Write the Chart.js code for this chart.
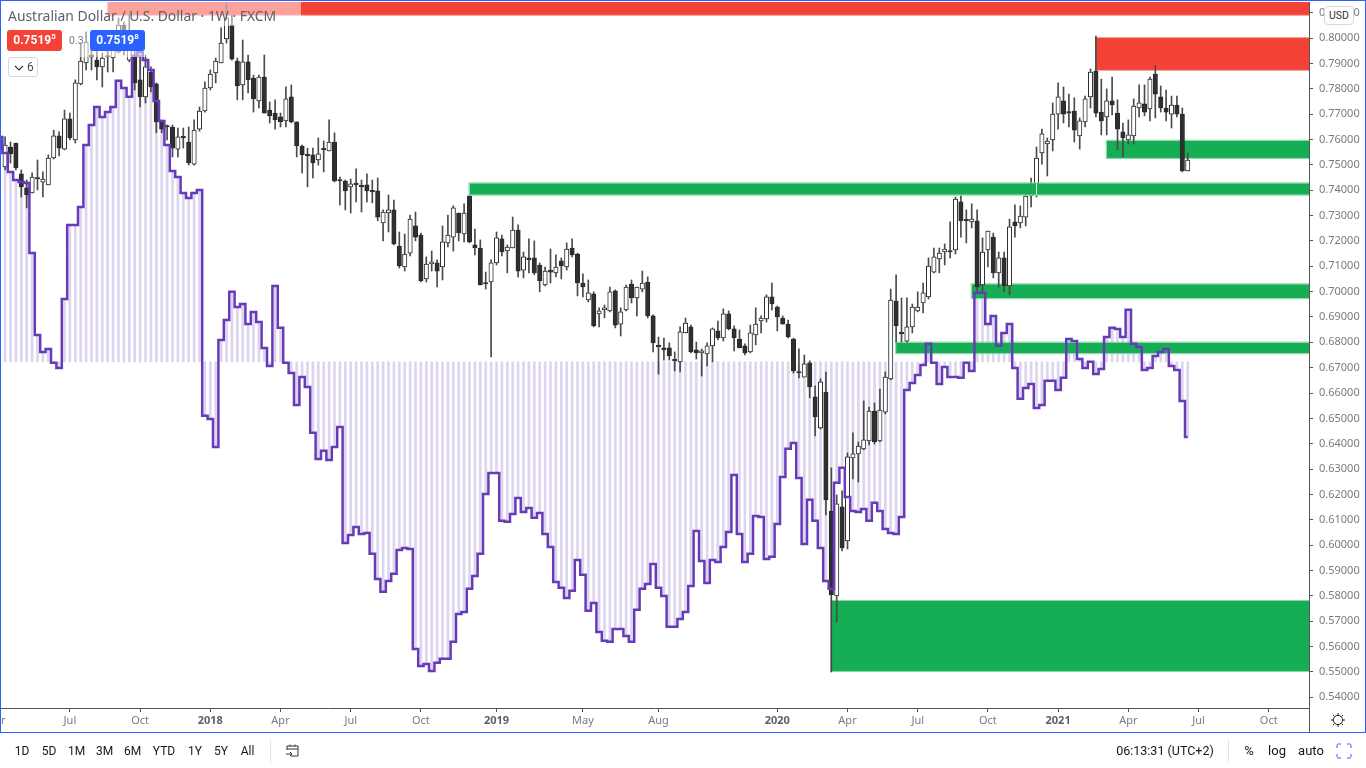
<!DOCTYPE html>
<html>
<head>
<meta charset="utf-8">
<title>AUD/USD 1W</title>
<script src="https://cdn.jsdelivr.net/npm/chart.js@4"></script>
<style>
  html, body { margin: 0; padding: 0; background: #fff; overflow: hidden; }
  body { width: 1366px; height: 768px; position: relative; font-family: Roboto, sans-serif; color: #131722; }
  canvas { position: absolute; left: 0; top: 0; }
  .abs { position: absolute; white-space: nowrap; }
  .veil { position: absolute; background: rgba(255,255,255,.5); }
  .price { position: absolute; top: 30px; width: 55px; height: 21px; border-radius: 3px; color: #fff; font: 700 12px/21px Roboto, sans-serif; text-align: center; }
  .price sup { font-size: 8px; line-height: 0; }
  .btn { position: absolute; top: 743px; font-size: 12px; line-height: 16px; transform: translateX(-50%); }
</style>
</head>
<body>
<canvas id="chart" width="1366" height="768"></canvas>

<!-- frame -->
<div class="abs" style="left:0;top:0;width:1366px;height:733px;box-sizing:border-box;border:1px solid #2962ff;border-width:1.5px"></div>
<div class="abs" style="left:1309px;top:2px;width:1px;height:730px;background:#555"></div>

<!-- legend -->
<div class="veil" style="left:2px;top:2px;width:299px;height:24px"></div>
<div class="veil" style="left:2px;top:26px;width:147px;height:31px"></div>
<div class="abs" style="left:8px;top:8px;font:13.9px/16px 'Noto Sans',sans-serif;color:#5d606b">Australian Dollar / U.S. Dollar · 1W · FXCM</div>
<div class="price" style="left:7px;background:#f44336">0.7519<sup>5</sup></div>
<div class="abs" style="left:69px;top:34px;font-size:10.5px;line-height:14px;color:#787b86">0.3</div>
<div class="price" style="left:90px;background:#2962ff">0.7519<sup>8</sup></div>
<div class="abs" style="left:8px;top:57px;width:28px;height:18px;border:1px solid #d6d8e0;border-radius:3px;background:#fff;font-size:12px;line-height:18px;color:#4a4e5a">
  <svg width="10" height="6" style="position:absolute;left:5px;top:7px"><path d="M1 1l4 4 4-4" fill="none" stroke="#333" stroke-width="1.1"/></svg>
  <span style="position:absolute;left:18px">6</span>
</div>
<div class="abs" style="left:1324px;top:6px;width:28px;height:17px;border:1px solid #d6d8e0;border-radius:4px;background:#fff;font-size:10.5px;line-height:17px;text-align:center;color:#333">USD</div>

<!-- settings gear -->
<svg class="abs" style="left:1330px;top:712px" width="16" height="16" viewBox="0 0 16 16">
  <circle cx="8" cy="8" r="4.6" fill="none" stroke="#222" stroke-width="1"/>
  <path d="M8 1v2M8 13v2M1 8h2M13 8h2M3 3l1.4 1.4M11.6 11.6L13 13M13 3l-1.4 1.4M4.4 11.6L3 13" stroke="#222" stroke-width="1"/>
</svg>

<!-- bottom toolbar -->
<div class="btn" style="left:22px">1D</div>
<div class="btn" style="left:49px">5D</div>
<div class="btn" style="left:76.5px">1M</div>
<div class="btn" style="left:104.5px">3M</div>
<div class="btn" style="left:132.5px">6M</div>
<div class="btn" style="left:164px">YTD</div>
<div class="btn" style="left:195px">1Y</div>
<div class="btn" style="left:221px">5Y</div>
<div class="btn" style="left:247.5px">All</div>
<div class="abs" style="left:270px;top:740px;width:1px;height:23px;background:#e0e3eb"></div>
<svg class="abs" style="left:285px;top:743px" width="16" height="16" viewBox="0 0 16 16">
  <path d="M2 7V3h11v10H6M2 6h11M5 1.5v2M10 1.5v2M1 11h6M5 9l2 2-2 2" fill="none" stroke="#333" stroke-width="1"/>
</svg>
<div class="btn" style="left:1165px;font-size:12.5px">06:13:31 (UTC+2)</div>
<div class="abs" style="left:1228px;top:740px;width:1px;height:23px;background:#e0e3eb"></div>
<div class="btn" style="left:1249px;font-size:13px">%</div>
<div class="btn" style="left:1277px;font-size:13px">log</div>
<div class="btn" style="left:1311px;font-size:13px">auto</div>
<svg class="abs" style="left:1336px;top:743px" width="16" height="16" viewBox="0 0 16 16">
  <path d="M1 5V2.5A1.5 1.5 0 0 1 2.5 1H5M11 1h2.500A1.500 1.500 0 0 1 15 2.500V5M15 11v2.500a1.500 1.500 0 0 1-1.500 1.500H11M5 15H2.500A1.500 1.500 0 0 1 1 13.500V11" fill="none" stroke="#2962ff" stroke-width="1"/>
</svg>

<script>
// weekly AUD/USD candles, oldest first
const opens = [
  0.7598,0.7492,0.7570,0.7586,0.7464,0.7409,0.7389,0.7448,0.7432,0.7421,
  0.7527,0.7614,0.7562,0.7681,0.7598,0.7819,0.7902,0.7933,0.7913,0.7886,
  0.7929,0.7921,0.7945,0.8051,0.7913,0.7925,0.7835,0.7768,0.7866,0.7819,
  0.7669,0.7653,0.7649,0.7562,0.7610,0.7590,0.7503,0.7641,0.7712,0.7803,
  0.7862,0.7902,0.7996,0.8051,0.7909,0.7815,0.7906,0.7842,0.7752,0.7846,
  0.7716,0.7704,0.7689,0.7673,0.7768,0.7669,0.7574,0.7539,0.7539,0.7519,
  0.7562,0.7555,0.7590,0.7440,0.7436,0.7413,0.7428,0.7417,0.7421,0.7397,
  0.7397,0.7271,0.7310,0.7322,0.7180,0.7097,0.7152,0.7259,0.7223,0.7050,
  0.7109,0.7113,0.7097,0.7192,0.7215,0.7310,0.7227,0.7377,0.7184,0.7172,
  0.7034,0.7038,0.7113,0.7208,0.7160,0.7172,0.7243,0.7085,0.7133,0.7133,
  0.7105,0.7026,0.7085,0.7074,0.7121,0.7097,0.7172,0.7148,0.7034,0.6967,
  0.6991,0.6912,0.6928,0.6924,0.7003,0.6872,0.6928,0.7030,0.6975,0.7010,
  0.7038,0.6904,0.6786,0.6778,0.6778,0.6730,0.6723,0.6837,0.6861,0.6770,
  0.6758,0.6754,0.6786,0.6845,0.6817,0.6912,0.6853,0.6813,0.6786,0.6762,
  0.6829,0.6884,0.6892,0.6979,0.6939,0.6896,0.6872,0.6813,0.6683,0.6663,
  0.6719,0.6585,0.6462,0.6604,0.6135,0.5800,0.6151,0.6017,0.6344,0.6360,
  0.6380,0.6411,0.6529,0.6411,0.6525,0.6656,0.6963,0.6837,0.6805,0.6861,
  0.6924,0.6955,0.6979,0.7077,0.7129,0.7156,0.7160,0.7164,0.7354,0.7283,
  0.7275,0.7279,0.7026,0.7164,0.7215,0.7074,0.7133,0.7022,0.7275,0.7271,
  0.7294,0.7377,0.7425,0.7547,0.7582,0.7598,0.7700,0.7752,0.7708,0.7712,
  0.7614,0.7669,0.7768,0.7870,0.7708,0.7689,0.7752,0.7704,0.7630,0.7598,
  0.7614,0.7724,0.7740,0.7720,0.7858,0.7768,0.7724,0.7700,0.7736,0.7700,0.7476
]
const highs = [
  0.7618,0.7610,0.7590,0.7586,0.7480,0.7440,0.7468,0.7519,0.7472,0.7539,
  0.7637,0.7630,0.7716,0.7704,0.7835,0.7980,0.8024,0.7984,0.7953,0.7941,
  0.7953,0.7980,0.8079,0.8063,0.8095,0.7953,0.7933,0.7933,0.7886,0.7823,
  0.7677,0.7657,0.7657,0.7645,0.7645,0.7649,0.7677,0.7728,0.7827,0.7874,
  0.7921,0.8040,0.8138,0.8091,0.7921,0.7992,0.7933,0.7854,0.7854,0.7933,
  0.7748,0.7756,0.7704,0.7807,0.7815,0.7669,0.7578,0.7566,0.7566,0.7606,
  0.7594,0.7677,0.7626,0.7452,0.7440,0.7444,0.7484,0.7440,0.7464,0.7440,
  0.7448,0.7322,0.7381,0.7361,0.7235,0.7227,0.7302,0.7314,0.7231,0.7137,
  0.7160,0.7125,0.7259,0.7302,0.7338,0.7310,0.7346,0.7381,0.7247,0.7204,
  0.7077,0.7125,0.7235,0.7223,0.7184,0.7294,0.7263,0.7156,0.7208,0.7200,
  0.7113,0.7097,0.7168,0.7145,0.7133,0.7192,0.7208,0.7152,0.7070,0.7046,
  0.6999,0.6936,0.6947,0.7018,0.7007,0.6936,0.7026,0.7046,0.7018,0.7081,
  0.7058,0.6908,0.6821,0.6817,0.6798,0.6762,0.6861,0.6896,0.6868,0.6801,
  0.6774,0.6798,0.6857,0.6884,0.6932,0.6924,0.6865,0.6849,0.6794,0.6868,
  0.6936,0.6904,0.6987,0.7034,0.6943,0.6904,0.6888,0.6817,0.6774,0.6750,
  0.6727,0.6628,0.6656,0.6683,0.6305,0.6198,0.6214,0.6364,0.6443,0.6407,
  0.6569,0.6545,0.6561,0.6616,0.6683,0.7010,0.7066,0.6975,0.6975,0.6951,
  0.6999,0.7034,0.7133,0.7172,0.7172,0.7188,0.7275,0.7373,0.7381,0.7322,
  0.7346,0.7322,0.7212,0.7239,0.7231,0.7156,0.7156,0.7286,0.7342,0.7338,
  0.7381,0.7448,0.7570,0.7641,0.7606,0.7744,0.7823,0.7807,0.7779,0.7764,
  0.7685,0.7771,0.7878,0.8008,0.7838,0.7799,0.7846,0.7756,0.7665,0.7677,
  0.7760,0.7815,0.7815,0.7846,0.7890,0.7811,0.7795,0.7771,0.7771,0.7724,0.7547
]
const lows = [
  0.7539,0.7480,0.7507,0.7480,0.7373,0.7330,0.7389,0.7401,0.7373,0.7421,
  0.7523,0.7535,0.7559,0.7598,0.7586,0.7815,0.7874,0.7874,0.7835,0.7807,
  0.7866,0.7866,0.7941,0.7933,0.7906,0.7795,0.7728,0.7744,0.7787,0.7626,
  0.7626,0.7598,0.7531,0.7531,0.7566,0.7499,0.7499,0.7633,0.7708,0.7795,
  0.7823,0.7902,0.7980,0.7913,0.7756,0.7756,0.7783,0.7708,0.7724,0.7704,
  0.7665,0.7641,0.7649,0.7649,0.7665,0.7531,0.7468,0.7413,0.7448,0.7499,
  0.7472,0.7555,0.7432,0.7342,0.7322,0.7310,0.7354,0.7314,0.7354,0.7350,
  0.7279,0.7200,0.7235,0.7184,0.7093,0.7081,0.7141,0.7200,0.7038,0.7038,
  0.7081,0.7018,0.7046,0.7176,0.7160,0.7200,0.7196,0.7192,0.7145,0.7026,
  0.7010,0.6742,0.7105,0.7141,0.7074,0.7172,0.7058,0.7054,0.7074,0.7066,
  0.6999,0.7022,0.7034,0.7058,0.7050,0.7085,0.7137,0.6983,0.6979,0.6959,
  0.6861,0.6861,0.6896,0.6920,0.6857,0.6825,0.6924,0.6955,0.6904,0.6999,
  0.6896,0.6762,0.6675,0.6730,0.6730,0.6687,0.6683,0.6837,0.6758,0.6734,
  0.6667,0.6707,0.6723,0.6809,0.6805,0.6849,0.6766,0.6778,0.6750,0.6758,
  0.6790,0.6837,0.6880,0.6928,0.6845,0.6872,0.6817,0.6679,0.6660,0.6663,
  0.6581,0.6431,0.6458,0.6119,0.5500,0.5697,0.5977,0.5985,0.6261,0.6249,
  0.6376,0.6395,0.6399,0.6407,0.6518,0.6652,0.6801,0.6801,0.6801,0.6837,
  0.6920,0.6916,0.6971,0.7074,0.7074,0.7105,0.7133,0.7148,0.7215,0.7192,
  0.7251,0.6999,0.6995,0.7097,0.7054,0.7018,0.6999,0.6987,0.7215,0.7251,
  0.7259,0.7334,0.7373,0.7503,0.7456,0.7555,0.7641,0.7665,0.7649,0.7590,
  0.7562,0.7649,0.7724,0.7689,0.7618,0.7618,0.7697,0.7559,0.7531,0.7582,
  0.7582,0.7689,0.7693,0.7673,0.7685,0.7708,0.7673,0.7645,0.7689,0.7472,0.7476
]
const closes = [
  0.7559,0.7578,0.7543,0.7488,0.7413,0.7381,0.7452,0.7444,0.7444,0.7527,
  0.7614,0.7566,0.7681,0.7606,0.7823,0.7909,0.7984,0.7925,0.7886,0.7921,
  0.7925,0.7953,0.8051,0.7973,0.8024,0.7823,0.7768,0.7886,0.7807,0.7669,
  0.7641,0.7649,0.7566,0.7610,0.7606,0.7507,0.7637,0.7712,0.7803,0.7858,
  0.7909,0.7980,0.8079,0.7917,0.7811,0.7906,0.7835,0.7760,0.7846,0.7704,
  0.7693,0.7677,0.7669,0.7760,0.7669,0.7574,0.7539,0.7535,0.7507,0.7543,
  0.7559,0.7590,0.7436,0.7436,0.7397,0.7425,0.7421,0.7413,0.7397,0.7393,
  0.7294,0.7314,0.7322,0.7188,0.7101,0.7148,0.7286,0.7215,0.7042,0.7109,
  0.7117,0.7081,0.7196,0.7223,0.7330,0.7231,0.7310,0.7196,0.7172,0.7026,
  0.7030,0.7113,0.7212,0.7156,0.7176,0.7243,0.7081,0.7137,0.7125,0.7074,
  0.7042,0.7081,0.7077,0.7097,0.7101,0.7168,0.7145,0.7034,0.7018,0.6995,
  0.6865,0.6924,0.6936,0.6999,0.6868,0.6920,0.7018,0.6975,0.7018,0.7034,
  0.6904,0.6798,0.6782,0.6770,0.6746,0.6727,0.6841,0.6876,0.6762,0.6758,
  0.6766,0.6786,0.6853,0.6817,0.6912,0.6853,0.6817,0.6778,0.6758,0.6837,
  0.6872,0.6896,0.6979,0.6951,0.6900,0.6872,0.6821,0.6687,0.6679,0.6715,
  0.6624,0.6506,0.6644,0.6179,0.5804,0.6163,0.5989,0.6348,0.6360,0.6391,
  0.6415,0.6529,0.6407,0.6533,0.6663,0.6967,0.6865,0.6833,0.6861,0.6939,
  0.6939,0.6995,0.7101,0.7137,0.7152,0.7168,0.7156,0.7365,0.7279,0.7279,
  0.7286,0.7018,0.7156,0.7239,0.7074,0.7133,0.7022,0.7255,0.7259,0.7298,
  0.7377,0.7425,0.7527,0.7622,0.7594,0.7700,0.7768,0.7700,0.7704,0.7637,
  0.7673,0.7760,0.7866,0.7704,0.7673,0.7752,0.7736,0.7641,0.7606,0.7618,
  0.7732,0.7744,0.7708,0.7838,0.7779,0.7724,0.7708,0.7736,0.7700,0.7476,0.7519
]

// purple oscillator, read against the price axis; columns hang off oscBase
const oscBase = 0.6723
const osc = [
  0.7610,0.7547,0.7472,0.7440,0.7432,0.7428,0.7152,0.6829,0.6762,0.6774,
  0.6719,0.6699,0.6971,0.7263,0.7263,0.7334,0.7578,0.7657,0.7728,0.7689,
  0.7708,0.7728,0.7831,0.7803,0.7768,0.7929,0.7945,0.7913,0.7874,0.7752,
  0.7673,0.7578,0.7476,0.7452,0.7389,0.7369,0.7389,0.7401,0.6510,0.6498,
  0.6387,0.6809,0.6888,0.6999,0.6939,0.6951,0.6872,0.6920,0.6880,0.6778,
  0.6707,0.7022,0.6857,0.6719,0.6679,0.6553,0.6663,0.6624,0.6443,0.6340,
  0.6372,0.6336,0.6387,0.6466,0.6009,0.6040,0.6072,0.6044,0.6048,0.5966,
  0.5867,0.5816,0.5859,0.5887,0.5981,0.5989,0.5985,0.5591,0.5524,0.5532,
  0.5504,0.5536,0.5552,0.5552,0.5619,0.5729,0.5737,0.5828,0.5879,0.5966,
  0.6202,0.6285,0.6285,0.6096,0.6092,0.6123,0.6186,0.6131,0.6147,0.6108,
  0.6127,0.6044,0.5993,0.5855,0.5832,0.5792,0.5820,0.5942,0.5883,0.5741,
  0.5772,0.5658,0.5623,0.5619,0.5670,0.5670,0.5642,0.5619,0.5745,0.5828,
  0.5847,0.5926,0.5832,0.5800,0.5678,0.5678,0.5709,0.5737,0.5839,0.6056,
  0.5938,0.5851,0.5942,0.5934,0.5993,0.6052,0.6277,0.6044,0.5934,0.5966,
  0.6115,0.6111,0.5946,0.5954,0.6084,0.6269,0.6380,0.6403,0.6265,0.6005,
  0.6179,0.6096,0.5989,0.5859,0.5828,0.6246,0.6305,0.6190,0.6135,0.6131,
  0.6143,0.6096,0.6167,0.6135,0.6064,0.6048,0.6044,0.6111,0.6612,0.6640,
  0.6671,0.6711,0.6794,0.6719,0.6636,0.6703,0.6663,0.6663,0.6660,0.6719,
  0.6687,0.6995,0.6995,0.6872,0.6904,0.6786,0.6837,0.6872,0.6699,0.6577,
  0.6620,0.6636,0.6541,0.6553,0.6648,0.6648,0.6612,0.6660,0.6813,0.6805,
  0.6734,0.6699,0.6723,0.6675,0.6695,0.6821,0.6857,0.6853,0.6821,0.6928,
  0.6794,0.6782,0.6691,0.6699,0.6746,0.6762,0.6774,0.6707,0.6691,0.6569,0.6427
]

// supply and demand zones: first week, top and bottom price, all run to the right edge
const zoneStart = [20, 203, 205, 87, 180, 166, 154]
const zoneTop = [0.8142, 0.8000, 0.7595, 0.7427, 0.7029, 0.6799, 0.5780]
const zoneBottom = [0.8091, 0.7874, 0.7527, 0.7382, 0.6974, 0.6757, 0.5504]
const zoneColor = ["#f44336", "#f44336", "#16ae54", "#16ae54", "#16ae54", "#16ae54", "#16ae54"]
const zoneEdge = ["#f9a09a", "#f9a09a", "#8ad6a9", "#8ad6a9", "#8ad6a9", "#8ad6a9", "#8ad6a9"]
const zoneOverCandles = 3   // this one sits on top of the candles
const slitWeek = 192        // thin white slit through that zone

const tickWeeks = [-0.6, 13, 26, 39, 52, 65, 78, 92, 108, 122, 144, 157, 170, 183, 196, 209, 222, 235]
const tickNames = ["Apr", "Jul", "Oct", "2018", "Apr", "Jul", "Oct", "2019", "May", "Aug", "2020", "Apr", "Jul", "Oct", "2021", "Apr", "Jul", "Oct"]

const weeks = opens.map((_, i) => i)
const lastWeek = 242.46

const isYear = ctx => !!ctx.tick && /^20/.test(ctx.tick.label)

function drawZone(chart, i) {
  const { ctx, scales: { x, y }, chartArea } = chart
  const left = x.getPixelForValue(zoneStart[i])
  const top = y.getPixelForValue(zoneTop[i])
  const bottom = y.getPixelForValue(zoneBottom[i])
  ctx.save()
  ctx.beginPath()
  ctx.rect(chartArea.left, chartArea.top, chartArea.width, chartArea.height)
  ctx.clip()
  ctx.fillStyle = zoneColor[i]
  ctx.fillRect(left, top, chartArea.right - left, bottom - top)
  ctx.strokeStyle = zoneEdge[i]
  ctx.lineWidth = 1
  ctx.strokeRect(left - 0.5, top - 0.5, chartArea.right - left + 1, bottom - top + 1)
  ctx.restore()
}

const zonesPlugin = {
  id: "zones",
  afterDatasetDraw(chart, args) {
    if (args.index !== 0) return
    zoneStart.forEach((_, i) => { if (i !== zoneOverCandles) drawZone(chart, i) })
  },
  afterDatasetsDraw(chart) {
    const { ctx, scales: { x, y } } = chart
    drawZone(chart, zoneOverCandles)
    ctx.fillStyle = "#e8f7ee"
    ctx.fillRect(x.getPixelForValue(slitWeek) - 0.5, y.getPixelForValue(zoneTop[zoneOverCandles]), 1,
      y.getPixelForValue(zoneBottom[zoneOverCandles]) - y.getPixelForValue(zoneTop[zoneOverCandles]))
  }
}

new Chart(document.getElementById("chart"), {
  type: "bar",
  plugins: [zonesPlugin],
  data: {
    datasets: [
      {
        label: "osc columns",
        data: weeks.map(i => ({ x: i, y: [oscBase, osc[i]] })),
        backgroundColor: "#ddd5ef",
        barThickness: 2,
        order: 4
      },
      {
        label: "wicks",
        data: weeks.map(i => ({ x: i, y: [lows[i], highs[i]] })),
        backgroundColor: "#4a4a4a",
        barThickness: 1,
        order: 3
      },
      {
        label: "bodies",
        data: weeks.map(i => ({ x: i, y: [opens[i], closes[i]] })),
        backgroundColor: weeks.map(i => closes[i] >= opens[i] ? "#ffffff" : "#2f2f2f"),
        borderColor: "#2b2b2b",
        borderWidth: 1,
        borderSkipped: false,
        barThickness: 4.4,
        minBarLength: 1.5,
        order: 2
      },
      {
        type: "line",
        label: "osc",
        data: weeks.map(i => ({ x: i, y: osc[i] })),
        borderColor: "#673ab7",
        borderWidth: 2.5,
        stepped: "middle",
        pointRadius: 0,
        order: 1
      }
    ]
  },
  options: {
    responsive: false,
    animation: false,
    events: [],
    layout: { padding: { left: 1, top: 2, right: 1, bottom: 36 } },
    datasets: { bar: { grouped: false } },
    plugins: { legend: { display: false }, tooltip: { enabled: false } },
    scales: {
      x: {
        type: "linear",
        offset: false,
        min: 0.2407,
        max: lastWeek,
        border: { color: "#555" },
        grid: { offset: false, drawOnChartArea: false, tickLength: 4, tickColor: "#555" },
        afterBuildTicks(scale) { scale.ticks = tickWeeks.map(value => ({ value })) },
        afterFit(scale) { scale.height = 24; scale.paddingLeft = 0; scale.paddingRight = 0 },
        ticks: {
          autoSkip: false,
          maxRotation: 0,
          padding: 2,
          color: ctx => isYear(ctx) ? "#5d606b" : "#787b86",
          font: ctx => ({ family: "Noto Sans", size: 11, weight: isYear(ctx) ? "bold" : "normal" }),
          callback: value => tickNames[tickWeeks.indexOf(value)]
        }
      },
      y: {
        position: "right",
        min: 0.5358,
        max: 0.8142,
        border: { color: "#555" },
        grid: { drawOnChartArea: false, tickLength: 4, tickColor: "#555" },
        afterFit(scale) { scale.width = 56; scale.paddingTop = 0; scale.paddingBottom = 0 },
        ticks: {
          stepSize: 0.01,
          includeBounds: false,
          autoSkip: false,
          padding: 6,
          color: "#787b86",
          font: { family: "Noto Sans", size: 11 },
          callback: value => value.toFixed(5)
        }
      }
    }
  }
})
</script>
</body>
</html>
